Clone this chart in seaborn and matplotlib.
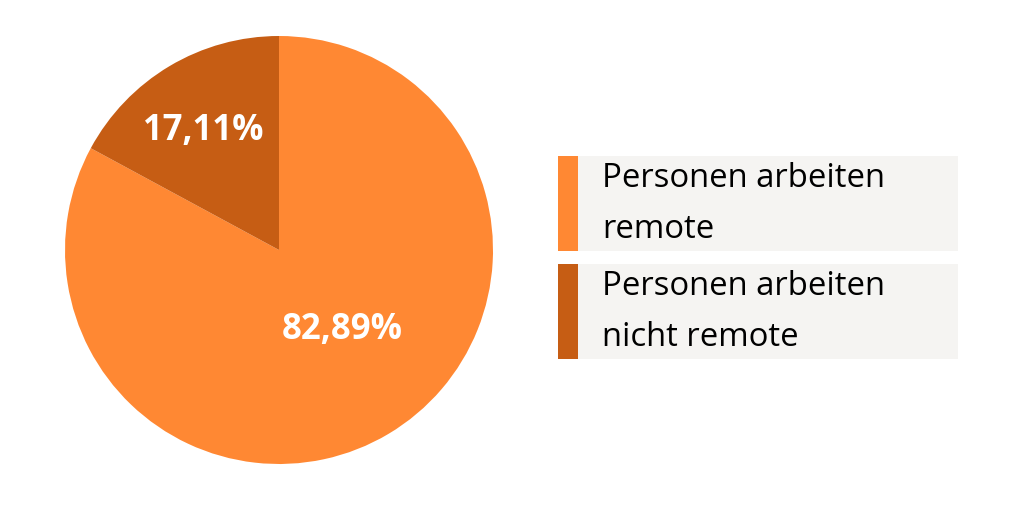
import matplotlib
matplotlib.use('Agg')
import matplotlib.pyplot as plt
import seaborn as sns
import numpy as np
from matplotlib.patches import Rectangle

# data
categories = [['Personen arbeiten', 'remote'], ['Personen arbeiten', 'nicht remote']]
shares = [82.89, 17.11]
pct_labels = ['82,89%', '17,11%']
colors = ['#FF8833', '#C65D14']

sns.set_theme(style='white')
plt.rcParams['font.family'] = ['Open Sans', 'DejaVu Sans']

fig = plt.figure(figsize=(10.24, 5.07), dpi=100)
W, H = 1024, 507

# pie axes: center (279, 250), radius 214 px
cx, cy, r = 279, 250, 214
ax = fig.add_axes([(cx - r) / W, (H - cy - r) / H, 2 * r / W, 2 * r / H])
wedges, _ = ax.pie(shares, colors=colors, startangle=90, counterclock=False,
                   radius=1, wedgeprops=dict(linewidth=0))
ax.set_xlim(-1, 1)
ax.set_ylim(-1, 1)
ax.set_aspect('equal')
ax.axis('off')

# percentage labels placed along each wedge
label_dist = [0.476, 0.657]
label_angle_shift = [7.4, 1.6]
for w, txt, d, s in zip(wedges, pct_labels, label_dist, label_angle_shift):
    ang = np.deg2rad((w.theta1 + w.theta2) / 2 + s)
    ax.text(d * np.cos(ang), d * np.sin(ang), txt, color='white', fontsize=25,
            fontweight='bold', ha='center', va='center')

# custom legend boxes
lax = fig.add_axes([0, 0, 1, 1])
lax.set_xlim(0, W)
lax.set_ylim(H, 0)
lax.axis('off')
box_top = [156, 264]
for top, lines, col in zip(box_top, categories, colors):
    lax.add_patch(Rectangle((558, top), 400, 95, facecolor='#F5F4F2', edgecolor='none'))
    lax.add_patch(Rectangle((558, top), 20, 95, facecolor=col, edgecolor='none'))
    for i, line in enumerate(lines):
        lax.text(602, top + 31 + 50.5 * i, line, fontsize=23.7, color='black',
                 ha='left', va='baseline')

fig.savefig('out.png', dpi=100)
